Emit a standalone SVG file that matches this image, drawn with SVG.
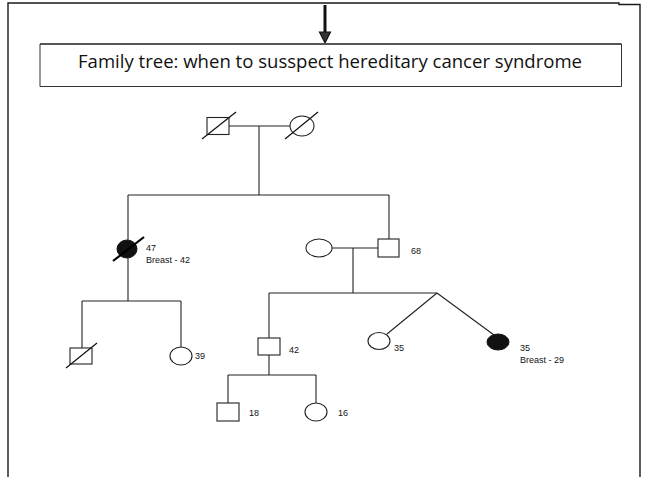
<svg xmlns="http://www.w3.org/2000/svg" width="647" height="477" viewBox="0 0 647 477">
  <style>
    .frame { fill: none; stroke: #1a1a1a; stroke-width: 1.4; }
    .ln { fill: none; stroke: #222; stroke-width: 1.1; }
    .sym { fill: #fff; stroke: #222; stroke-width: 1.1; }
    .aff { fill: #111; stroke: #111; stroke-width: 1; }
    .dead { stroke: #111; stroke-width: 1.2; }
    .deadbold { stroke: #000; stroke-width: 2.2; }
    .age { font-family: "Liberation Sans", Arial, sans-serif; font-size: 9px; fill: #111; }
    .title { font-family: "Open Sans", "Noto Sans", sans-serif; font-size: 19px; fill: #111; }
  </style>

  <rect width="647" height="477" fill="#fff"/>

  <!-- page frame -->
  <path class="frame" d="M8,477 V3 H619 V4.5 H640 V477"/>

  <!-- arrow into heading -->
  <g id="arrow">
    <line x1="325" y1="5" x2="325" y2="33" stroke="#111" stroke-width="3"/>
    <polygon points="319.5,32 330.5,32 325,43" fill="#333" stroke="#111" stroke-width="1.2"/>
  </g>

  <!-- heading box -->
  <g id="heading">
    <line x1="40" y1="44" x2="621.5" y2="44" stroke="#555" stroke-width="2"/>
    <path d="M40,44 V86.5 H621.5 V44" fill="none" stroke="#333" stroke-width="1"/>
    <text class="title" x="78" y="68" textLength="504" lengthAdjust="spacingAndGlyphs">Family tree: when to susspect hereditary cancer syndrome</text>
  </g>

  <!-- connectors -->
  <g id="connectors">
    <!-- generation I -->
    <line class="ln" x1="229" y1="126" x2="290" y2="126"/>
    <line class="ln" x1="259" y1="126" x2="259" y2="195"/>
    <line class="ln" x1="128" y1="195" x2="389" y2="195"/>
    <line class="ln" x1="128" y1="195" x2="128" y2="240"/>
    <line class="ln" x1="389" y1="195" x2="389" y2="239"/>
    <!-- children of II-47 -->
    <line class="ln" x1="128" y1="258" x2="128" y2="301"/>
    <line class="ln" x1="82" y1="301" x2="181" y2="301"/>
    <line class="ln" x1="82" y1="301" x2="82" y2="348"/>
    <line class="ln" x1="181" y1="301" x2="181" y2="347"/>
    <!-- couple II-68 -->
    <line class="ln" x1="332" y1="248" x2="378" y2="248"/>
    <line class="ln" x1="353" y1="248" x2="353" y2="293"/>
    <line class="ln" x1="269" y1="293" x2="437" y2="293"/>
    <line class="ln" x1="269" y1="293" x2="269" y2="338"/>
    <line class="ln" x1="437" y1="293" x2="387" y2="334"/>
    <line class="ln" x1="437" y1="293" x2="494" y2="335"/>
    <!-- children of III-42 -->
    <line class="ln" x1="269" y1="355" x2="269" y2="375"/>
    <line class="ln" x1="228" y1="375" x2="316" y2="375"/>
    <line class="ln" x1="228" y1="375" x2="228" y2="403"/>
    <line class="ln" x1="316" y1="375" x2="316" y2="403"/>
  </g>

  <!-- generation I -->
  <g id="grandfather">
    <rect class="sym" x="207" y="117.5" width="22" height="17"/>
    <line class="dead" x1="202" y1="139" x2="236" y2="112"/>
  </g>
  <g id="grandmother">
    <ellipse class="sym" cx="302" cy="126" rx="12" ry="10"/>
    <line class="dead" x1="285" y1="139" x2="318" y2="112"/>
  </g>

  <!-- generation II -->
  <g id="aunt-47">
    <ellipse class="aff" cx="127" cy="249" rx="10" ry="9"/>
    <line class="deadbold" x1="113" y1="261" x2="144" y2="237"/>
    <text class="age" x="146" y="251">47</text>
    <text class="age" x="146" y="263">Breast - 42</text>
  </g>
  <g id="mother">
    <ellipse class="sym" cx="319" cy="248" rx="13" ry="9"/>
  </g>
  <g id="father-68">
    <rect class="sym" x="378" y="239" width="21" height="18"/>
    <text class="age" x="411" y="254">68</text>
  </g>

  <!-- generation III -->
  <g id="cousin-m">
    <rect class="sym" x="70" y="348" width="22" height="16"/>
    <line class="dead" x1="66" y1="368" x2="97" y2="343"/>
  </g>
  <g id="cousin-39">
    <ellipse class="sym" cx="181" cy="356" rx="11" ry="9"/>
    <text class="age" x="195" y="359">39</text>
  </g>
  <g id="brother-42">
    <rect class="sym" x="258" y="338" width="22" height="17"/>
    <text class="age" x="289" y="353">42</text>
  </g>
  <g id="sister-35">
    <ellipse class="sym" cx="379" cy="341" rx="11" ry="8.5"/>
    <text class="age" x="394" y="351">35</text>
  </g>
  <g id="proband-35">
    <ellipse class="aff" cx="498" cy="342" rx="11" ry="8"/>
    <text class="age" x="520" y="351">35</text>
    <text class="age" x="520" y="363">Breast - 29</text>
  </g>

  <!-- generation IV -->
  <g id="son-18">
    <rect class="sym" x="217" y="403" width="22" height="18"/>
    <text class="age" x="249" y="416">18</text>
  </g>
  <g id="daughter-16">
    <ellipse class="sym" cx="316" cy="412" rx="11" ry="9"/>
    <text class="age" x="338" y="416">16</text>
  </g>
</svg>
